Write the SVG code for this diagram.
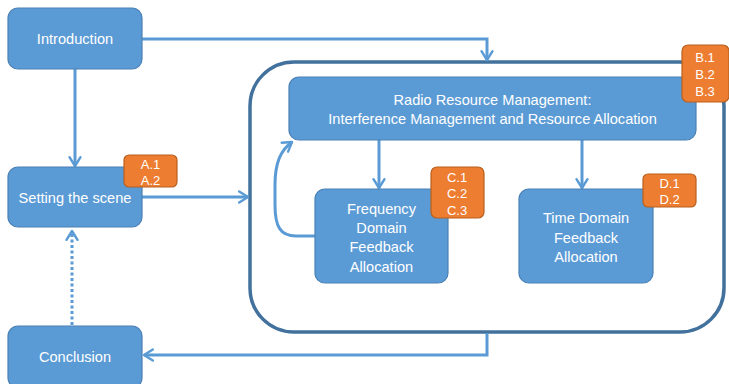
<svg xmlns="http://www.w3.org/2000/svg" width="729" height="384" viewBox="0 0 729 384">
  <defs>
    <style>
      .node { fill: #5B9BD5; stroke: #4A80B5; stroke-width: 1.2; }
      .tag { fill: #ED7D31; stroke: #B8601F; stroke-width: 1.2; }
      .label { fill: #FFFFFF; font-family: "Liberation Sans", "DejaVu Sans", sans-serif; font-size: 14.6px; text-anchor: middle; }
      .tagtext { fill: #FFFFFF; font-family: "Liberation Sans", "DejaVu Sans", sans-serif; font-size: 13px; text-anchor: middle; }
      .link { fill: none; stroke: #5B9BD5; stroke-width: 3; }
      .dotted { stroke-dasharray: 3 2.5; }
    </style>
    <marker id="arrow" viewBox="0 0 12 12" refX="10" refY="6" markerWidth="4.4" markerHeight="4.4" orient="auto" markerUnits="strokeWidth">
      <polyline points="2,1 10,6 2,11" fill="none" stroke="#5B9BD5" stroke-width="2.2" stroke-linecap="round" stroke-linejoin="round"/>
    </marker>
  </defs>

  <!-- outer frame around the RRM chapter -->
  <rect id="frame" x="250" y="62" width="474" height="270" rx="44" ry="44" fill="none" stroke="#41719C" stroke-width="3.5"/>

  <g id="connectors">
    <path class="link" d="M142,39 H487 V60" marker-end="url(#arrow)"/>
    <path class="link" d="M75,69 V166" marker-end="url(#arrow)"/>
    <path class="link" d="M142,197 H248" marker-end="url(#arrow)"/>
    <path class="link dotted" d="M72,325 V231" marker-end="url(#arrow)"/>
    <path class="link" d="M487,333 V355 H144" marker-end="url(#arrow)"/>
    <path class="link" d="M379,140 V188" marker-end="url(#arrow)"/>
    <path class="link" d="M582,140 V188" marker-end="url(#arrow)"/>
    <path class="link" d="M315,236 H296 C280,236 275,226 275,205 V185 C275,162 281,150 292,142" marker-end="url(#arrow)"/>
  </g>

  <g id="introduction">
    <rect class="node" x="8" y="8" width="134" height="61" rx="10"/>
    <text class="label" x="75" y="44">Introduction</text>
  </g>

  <g id="setting-the-scene">
    <rect class="node" x="8" y="167" width="134" height="60" rx="10"/>
    <text class="label" x="75" y="202.5">Setting the scene</text>
  </g>
  <g id="tag-a">
    <rect class="tag" x="124" y="155" width="53" height="32" rx="5"/>
    <text class="tagtext" x="150.5" y="168.5">A.1</text>
    <text class="tagtext" x="150.5" y="184.5">A.2</text>
  </g>

  <g id="conclusion">
    <rect class="node" x="8" y="326" width="134" height="62" rx="10"/>
    <text class="label" x="75" y="361.5">Conclusion</text>
  </g>

  <g id="rrm">
    <rect class="node" x="289" y="77" width="407" height="63" rx="10"/>
    <text class="label" x="492.5" y="104.5">Radio Resource Management:</text>
    <text class="label" x="492.5" y="123.5">Interference Management and Resource Allocation</text>
  </g>
  <g id="tag-b">
    <rect class="tag" x="682" y="45" width="47" height="57" rx="6"/>
    <text class="tagtext" x="705" y="62">B.1</text>
    <text class="tagtext" x="705" y="79">B.2</text>
    <text class="tagtext" x="705" y="96">B.3</text>
  </g>

  <g id="frequency-domain">
    <rect class="node" x="315" y="189" width="133" height="94" rx="10"/>
    <text class="label" x="381.5" y="213.5">Frequency</text>
    <text class="label" x="381.5" y="232.5">Domain</text>
    <text class="label" x="381.5" y="252">Feedback</text>
    <text class="label" x="381.5" y="271.5">Allocation</text>
  </g>
  <g id="tag-c">
    <rect class="tag" x="431" y="167" width="53" height="51" rx="6"/>
    <text class="tagtext" x="457" y="181.5">C.1</text>
    <text class="tagtext" x="457" y="198">C.2</text>
    <text class="tagtext" x="457" y="214.5">C.3</text>
  </g>

  <g id="time-domain">
    <rect class="node" x="519" y="189" width="134" height="94" rx="10"/>
    <text class="label" x="586" y="223">Time Domain</text>
    <text class="label" x="586" y="242.5">Feedback</text>
    <text class="label" x="586" y="261.5">Allocation</text>
  </g>
  <g id="tag-d">
    <rect class="tag" x="643" y="174" width="53" height="33" rx="5"/>
    <text class="tagtext" x="669.5" y="187.5">D.1</text>
    <text class="tagtext" x="669.5" y="204">D.2</text>
  </g>
</svg>
